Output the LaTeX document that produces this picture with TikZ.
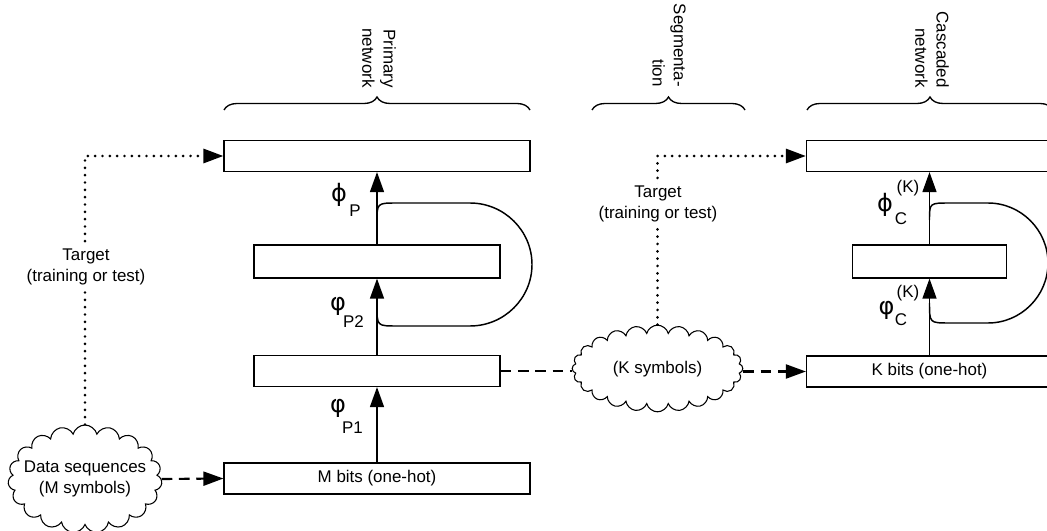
\documentclass[tikz,border=0pt]{standalone}
\usepackage{fontspec}
\setmainfont{Liberation Sans}
\newfontfamily\greekfont{DejaVu Sans}
\usetikzlibrary{arrows.meta,shapes.symbols,decorations.pathreplacing}
\begin{document}
\begin{tikzpicture}[x=0.75pt,y=-0.75pt,
  font=\fontsize{12.7}{16}\selectfont,
  >={Triangle[length=15pt,width=10.5pt]},
  boxn/.style={draw,line width=0.9pt,inner sep=0pt,minimum height=23.25pt},
  arr/.style={->,line width=1.1pt},
  dotl/.style={->,line width=2.2pt,line cap=round,dash pattern=on 0pt off 5.5pt},
  dashl/.style={line width=1.6pt,dash pattern=on 8pt off 5pt},
  loopl/.style={line width=1.1pt},
  brc/.style={decorate,decoration={brace,amplitude=9.75pt},line width=1pt},
  cloudn/.style={cloud,draw,line width=0.8pt,cloud ignores aspect,inner sep=0pt},
  lbl/.style={fill=white,align=center,inner sep=1pt},
  vlab/.style={rotate=-90,anchor=east,align=right,inner sep=0pt},
  gph/.style={font=\greekfont\fontsize{18}{18}\selectfont,inner sep=0pt},
  subl/.style={inner sep=0pt}
]
\useasboundingbox (0,0) rectangle (1047,531);
\clip (0,0) rectangle (1047,531);

% boxes
\node[boxn,minimum width=229.5pt] (ptop) at (377,156) {};
\node[boxn,minimum width=184.5pt,minimum height=24.75pt] (pmid) at (377,261.5) {};
\node[boxn,minimum width=184.5pt] (plow) at (377,371) {};
\node[boxn,minimum width=229.5pt] (pin) at (377,478.5) {M bits (one-hot)};
\node[boxn,minimum width=184.5pt] (ctop) at (929.5,156) {};
\node[boxn,minimum width=115.5pt,minimum height=24.75pt] (cmid) at (929.5,261.5) {};
\node[boxn,minimum width=184.5pt] (cin) at (929.5,371.5) {K bits (one-hot)};

% clouds
\node[cloudn,cloud puffs=19,minimum width=115.5pt,minimum height=81pt] (dcloud) at (85,479) {};
\node[align=center,inner sep=0pt] (dtext) at (85,479) {Data sequences\\(M symbols)};
\node[cloudn,cloud puffs=24,minimum width=128pt,minimum height=65pt] (kcloud) at (657.5,368.5) {};
\node[inner sep=0pt] (ktext) at (657.5,369) {(K symbols)};

% dotted target connectors
\draw[dotl] (dcloud.north) |- (ptop.west);
\node[lbl] (t1) at (86,267) {Target\\(training or test)};
\draw[dotl] (kcloud.north) |- (ctop.west);
\node[lbl] (t2) at (658,204) {Target\\(training or test)};

% dashed connectors
\draw[dashl,->] (dcloud.east) -- (pin.west);
\draw[dashl] (plow.east) -- (plow.east -| kcloud.west);
\draw[dashl,->] (kcloud.east |- cin.west) -- (cin.west);

% solid arrows
\draw[arr] (pin.north) -- (plow.south);
\draw[arr] (plow.north) -- (pmid.south);
\draw[arr] (pmid.north) -- (ptop.south);
\draw[arr] (cin.north) -- (cmid.south);
\draw[arr] (cmid.north) -- (ctop.south);

% recurrent loops
\draw[loopl] (377,222) .. controls (377,203) .. (397,203) -- (470,203)
  .. controls (504,203) and (532,230.5) .. (532,264.5)
  .. controls (532,298.5) and (504,326) .. (470,326) -- (397,326)
  .. controls (377,326) .. (377,306);
\draw[loopl] (929.5,220) .. controls (929.5,203) .. (949.5,203) -- (988,203)
  .. controls (1021,203) and (1048,230) .. (1048,263)
  .. controls (1048,296) and (1021,323) .. (988,323) -- (949.5,323)
  .. controls (929.5,323) .. (929.5,303);

% greek labels
\node[gph] (g1) at (339,195) {ϕ};
\node[subl] (s1) at (355,210.5) {P};
\node[gph] (g2) at (338,306) {φ};
\node[subl] (s2) at (353.5,321.5) {P2};
\node[gph] (g3) at (338,408) {φ};
\node[subl] (s3) at (352.5,428) {P1};
\node[gph] (g4) at (885,205) {ϕ};
\node[subl] (s4) at (908,188) {(K)};
\node[subl] (s5) at (901,219) {C};
\node[gph] (g5) at (886.5,310) {φ};
\node[subl] (s6) at (908,293) {(K)};
\node[subl] (s7) at (901,320) {C};

% braces
\draw[brc] (224,110) -- (530,110);
\draw[brc] (592,110) -- (745,110);
\draw[brc] (807,110) -- (1053,110);

% vertical labels
\node[vlab] (l1) at (379,88) {Primary\\network};
\node[vlab] (l2) at (669,87) {Segmenta-\\tion};
\node[vlab] (l3) at (932,88) {Cascaded\\network};
\end{tikzpicture}
\end{document}
